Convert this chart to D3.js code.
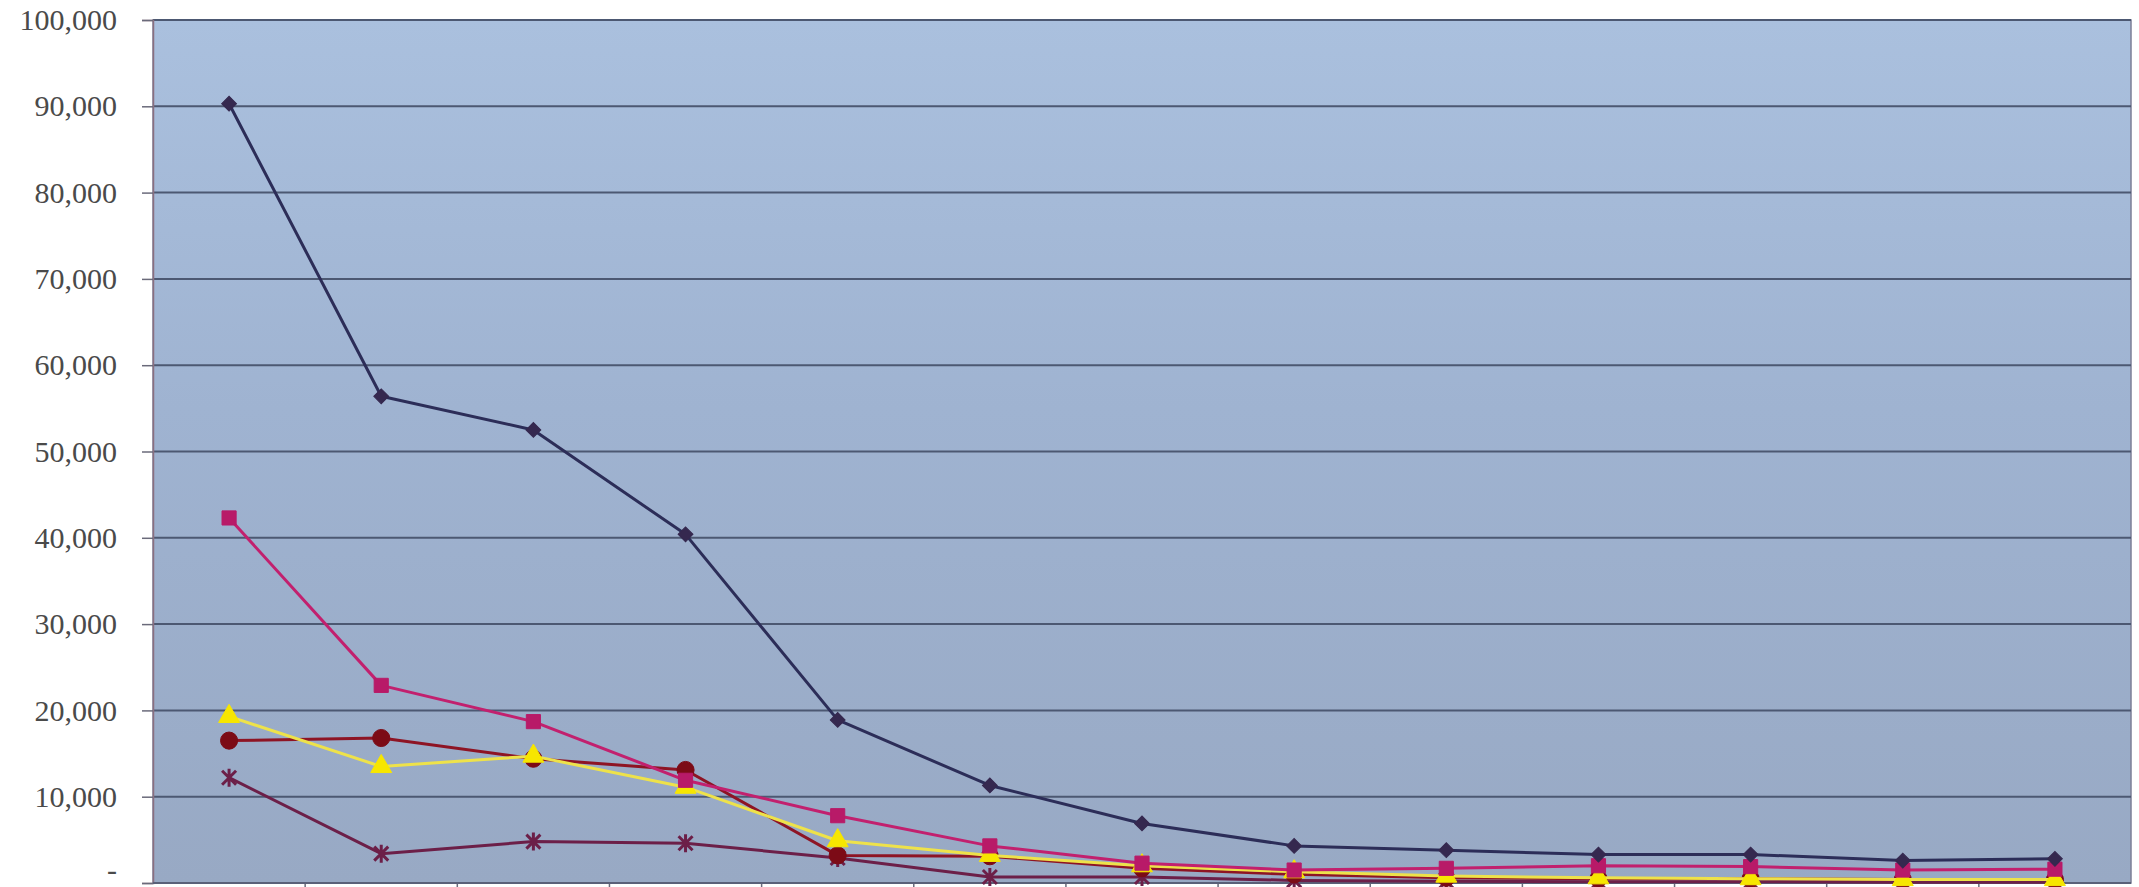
<!DOCTYPE html>
<html>
<head>
<meta charset="utf-8">
<script src="https://cdn.jsdelivr.net/npm/d3@7"></script>
<style>
  html, body { margin: 0; padding: 0; background: #fff; }
  svg { display: block; }
  .tick text { font-family: "Liberation Serif", "DejaVu Serif", serif; fill: #4a4a4a; }
</style>
</head>
<body>
<script>
///////////////////   Data   /////////////////

// no category labels are printed on the x axis, so just number them
var categories = [1,2,3,4,5,6,7,8,9,10,11,12,13];

var seriesNavy    = [90300, 56400, 52500, 40400, 18900, 11300, 6900, 4300, 3800, 3300, 3300, 2600, 2800];
var seriesMagenta = [42300, 22900, 18700, 11900, 7800, 4300, 2300, 1500, 1700, 2000, 1900, 1500, 1600];
var seriesYellow  = [19300, 13500, 14700, 11100, 4900, 3200, 2000, 1300, 800, 600, 500, 400, 400];
var seriesRed     = [16500, 16800, 14400, 13100, 3200, 3100, 1700, 1000, 600, 500, 500, 400, 400];
var seriesStar    = [12200, 3400, 4800, 4600, 2900, 700, 700, 300, 200, 150, 150, 100, 100];

var yTicks = [0,10000,20000,30000,40000,50000,60000,70000,80000,90000,100000];

///////////////////   Layout   /////////////////

var width = 2139, height = 887,
    margin = {top: 20, right: 8, bottom: 4, left: 153};

var series = [
  {values: seriesNavy,    line: "#2c2d58", fill: "#35284f", marker: "diamond"},
  {values: seriesMagenta, line: "#c2206e", fill: "#b81a68", marker: "square"},
  {values: seriesYellow,  line: "#eee24a", fill: "#f7e600", marker: "triangle"},
  {values: seriesRed,     line: "#8e1424", fill: "#7c0b16", marker: "circle"},
  {values: seriesStar,    line: "#6c1f48", fill: "#6c1f48", marker: "star"}
];

var svg = d3.select("body").append("svg")
    .attr("width", width)
    .attr("height", height);

var defs = svg.append("defs");
var grad = defs.append("linearGradient")
    .attr("id", "bg").attr("x1", 0).attr("y1", 0).attr("x2", 0).attr("y2", 1);
grad.append("stop").attr("offset", "0%").attr("stop-color", "#aac0de");
grad.append("stop").attr("offset", "45%").attr("stop-color", "#9fb3d1");
grad.append("stop").attr("offset", "100%").attr("stop-color", "#98a9c4");

var x = d3.scaleBand()
    .domain(categories)
    .range([margin.left, width - margin.right]);

var y = d3.scaleLinear()
    .domain([0, 100000])
    .range([height - margin.bottom, margin.top]);

// plot area
svg.append("rect")
    .attr("x", margin.left)
    .attr("y", margin.top)
    .attr("width", width - margin.right - margin.left)
    .attr("height", height - margin.bottom - margin.top)
    .attr("fill", "url(#bg)")
    .attr("stroke", "#7c7f96")
    .attr("stroke-width", 1.5);

// gridlines
svg.append("g")
    .selectAll("line")
    .data(yTicks.slice(1))
  .enter().append("line")
    .attr("x1", margin.left)
    .attr("x2", width - margin.right)
    .attr("y1", function(d) { return y(d); })
    .attr("y2", function(d) { return y(d); })
    .attr("stroke", "#4c5872")
    .attr("stroke-width", 2);

// y axis
var yAxis = d3.axisLeft(y)
    .tickValues(yTicks)
    .tickSize(11)
    .tickPadding(25)
    .tickFormat(function(d) { return d === 0 ? "-" : d3.format(",")(d); });

svg.append("g")
    .attr("transform", "translate(" + margin.left + ",0)")
    .call(yAxis)
    .call(function(g) {
        g.select(".domain").attr("stroke", "#8a6f80").attr("stroke-width", 1.5);
        g.selectAll(".tick line").attr("stroke", "#6a6a7a").attr("stroke-width", 1.5);
        g.selectAll(".tick text").attr("font-size", 30);
        // the zero dash sits on the bottom edge, lift it so the text box stays inside
        g.selectAll(".tick text").filter(function(d) { return d === 0; }).attr("dy", "-0.12em");
    });

// x axis: ticks between categories, no labels
var boundaries = categories.slice(1).map(function(c) { return x(c); });
svg.append("g")
    .selectAll("line")
    .data(boundaries)
  .enter().append("line")
    .attr("x1", function(d) { return d; })
    .attr("x2", function(d) { return d; })
    .attr("y1", y(0))
    .attr("y2", y(0) + 5)
    .attr("stroke", "#6a6a7a")
    .attr("stroke-width", 1.5);
svg.append("line")
    .attr("x1", margin.left).attr("x2", width - margin.right)
    .attr("y1", y(0)).attr("y2", y(0))
    .attr("stroke", "#5a6078").attr("stroke-width", 2);

///////////////////   Lines   /////////////////

var cx = function(i) { return x(categories[i]) + x.bandwidth() / 2; };

var line = d3.line()
    .x(function(d, i) { return cx(i); })
    .y(function(d) { return y(d); });

var symbols = {
    diamond: d3.symbolSquare,   // rotated 45deg below
    square: d3.symbolSquare,
    triangle: d3.symbolTriangle,
    circle: d3.symbolCircle
};
var sizes = {diamond: 110, square: 200, triangle: 190, circle: 230};

// draw back to front: star first so navy/magenta sit on top like the original
var order = [4, 3, 2, 1, 0];
order.forEach(function(k) {
    var s = series[k];
    var g = svg.append("g");
    g.append("path")
        .datum(s.values)
        .attr("d", line)
        .attr("fill", "none")
        .attr("stroke", s.line)
        .attr("stroke-width", 3)
        .attr("stroke-linejoin", "round");

    var pts = g.selectAll(".pt")
        .data(s.values)
      .enter().append("g")
        .attr("transform", function(d, i) {
            return "translate(" + cx(i) + "," + y(d) + ")" + (s.marker === "diamond" ? " rotate(45)" : "");
        });

    if (s.marker === "star") {
        // Excel-style star: an x with a vertical bar
        pts.append("path")
            .attr("d", "M-7,-7L7,7M-7,7L7,-7M0,-9L0,9")
            .attr("stroke", s.fill)
            .attr("stroke-width", 3)
            .attr("fill", "none");
    } else {
        pts.append("path")
            .attr("d", d3.symbol().type(symbols[s.marker]).size(sizes[s.marker]))
            .attr("fill", s.fill)
            .attr("stroke", s.fill)
            .attr("stroke-width", 1);
    }
});
</script>
</body>
</html>
